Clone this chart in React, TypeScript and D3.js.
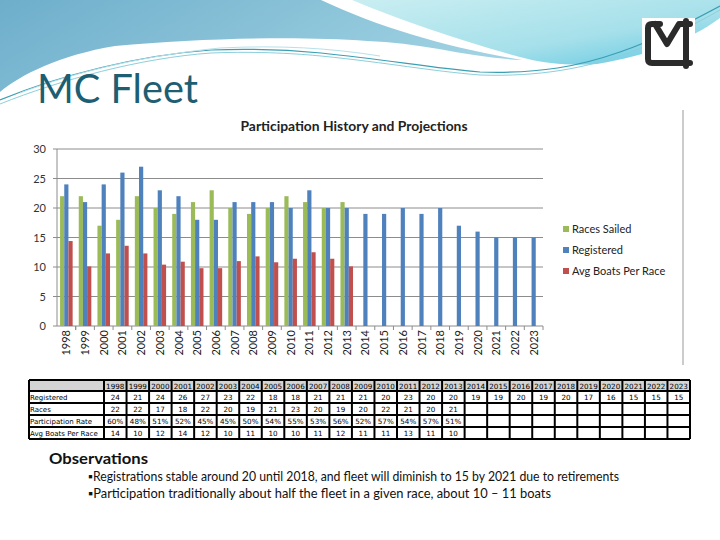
import React from "react";
import * as d3 from "d3";

const years = ["1998", "1999", "2000", "2001", "2002", "2003", "2004", "2005", "2006", "2007", "2008", "2009", "2010",
	"2011", "2012", "2013", "2014", "2015", "2016", "2017", "2018", "2019", "2020", "2021", "2022", "2023"];
const registered = [24, 21, 24, 26, 27, 23, 22, 18, 18, 21, 21, 21, 20, 23, 20, 20, 19, 19, 20, 19, 20, 17, 16, 15, 15, 15];
const racesSailed = [22, 22, 17, 18, 22, 20, 19, 21, 23, 20, 19, 20, 22, 21, 20, 21];
const avgBoats = [14.4, 10.1, 12.3, 13.6, 12.3, 10.4, 10.9, 9.8, 9.8, 11.0, 11.8, 10.8, 11.4, 12.5, 11.4, 10.1];
const partRate = ["60%", "48%", "51%", "52%", "45%", "45%", "50%", "54%", "55%", "53%", "56%", "52%", "57%", "54%", "57%", "51%"];
const yTicks = [0, 5, 10, 15, 20, 25, 30];

const seriesNames = ["Races Sailed", "Registered", "Avg Boats Per Race"];
const seriesColors = ["#9bbb59", "#4f81bd", "#c0504d"];
const seriesValues = [racesSailed, registered, avgBoats];

const rowLabels = ["Registered", "Races", "Participation Rate", "Avg Boats Per Race"];

const chartFont = "Lato, 'Liberation Sans', sans-serif";
const tableFont = "'DejaVu Sans', sans-serif";

export default function App() {
	const x = d3.scaleBand().domain(years).range([57, 543]);
	const y = d3.scaleLinear().domain([0, 30]).range([326, 149]);
	const sub = d3.scaleBand().domain(seriesNames).range([0, x.bandwidth()]).paddingOuter(0.73);

	// table columns
	const tblLeft = 29, labelW = 75, tblRight = 690;
	const col = d3.scaleBand().domain(years).range([tblLeft + labelW, tblRight]);
	const rowTops = [380, 391, 403, 415, 427, 439];
	const tableRows = [
		registered.map(String),
		racesSailed.map(String),
		partRate,
		avgBoats.map(v => String(Math.round(v))),
	];

	return (
		<svg width={720} height={540} style={{ position: "absolute", left: 0, top: 0, background: "#fff" }}>
			<defs>
				<linearGradient id="blueG" x1="0" y1="0" x2="1" y2="0.3">
					<stop offset="0" stopColor="#6eaecb" />
					<stop offset="1" stopColor="#9fd2e2" />
				</linearGradient>
				<linearGradient id="cyanG" x1="0" y1="0" x2="1" y2="1">
					<stop offset="0" stopColor="#c9eef2" />
					<stop offset="0.6" stopColor="#a6e0ea" />
					<stop offset="1" stopColor="#5ec6e2" />
				</linearGradient>
			</defs>

			{/* header swoosh */}
			<path d="M0,0 H321 C 380,28 450,48 522,60 C 470,58 420,42 367,41 C 300,36 200,38 115,46 C 60,55 20,75 0,92 Z" fill="url(#blueG)" />
			<path d="M352,0 H720 V18 C 690,40 650,55 597,64 C 570,66 545,63 528,59 C 470,44 405,22 352,0 Z" fill="url(#cyanG)" />
			<path d="M0,100 C 60,75 140,55 211,50 C 260,48 300,51 321,53 C 390,60 430,68 480,72 C 540,74 580,66 620,52 C 660,38 690,22 720,6" fill="none" stroke="#3a9fb2" strokeWidth={1.2} />
			<path d="M0,104 C 60,80 140,58 211,53 C 260,51 300,54 321,56 C 390,63 430,71 480,75 C 540,77 585,68 625,54 C 665,40 695,24 720,10" fill="none" stroke="#8ccfdc" strokeWidth={1} />
			<path d="M20,93 C 80,70 150,55 220,48 C 280,45 330,48 380,56" fill="none" stroke="#b8e0ea" strokeWidth={1} />

			{/* logo */}
			<rect x={642} y={18} width={53} height={50} fill="#fff" />
			<g fill="none" stroke="#2b2b2b" strokeWidth={6} strokeLinejoin="round" strokeLinecap="round">
				<path d="M660,24 H652 Q648,24 648,28 V59 Q648,63 652,63 H690" />
				<path d="M655,24 L667,44 L679,24 H690" />
				<path d="M686,21 V66" />
			</g>

			{/* slide title */}
			<text x={37} y={103} fontFamily="Lato, 'Open Sans', sans-serif" fontSize={41} fill="#1d5e72" textLength={161} lengthAdjust="spacingAndGlyphs">MC Fleet</text>

			{/* chart box */}
			<rect x={27} y={108} width={656} height={258} fill="#fff" />
			<line x1={683} x2={683} y1={110} y2={365} stroke="#999" />
			<text x={354} y={131} textAnchor="middle" fontFamily={chartFont} fontWeight="bold" fontSize={12.5} fill="#222" textLength={227} lengthAdjust="spacingAndGlyphs">Participation History and Projections</text>

			{/* grid */}
			{yTicks.map(t => (
				<g key={t}>
					{t > 0 && <line x1={57} x2={543} y1={y(t)} y2={y(t)} stroke="#8c8c8c" strokeWidth={1} />}
					<line x1={53} x2={57} y1={y(t)} y2={y(t)} stroke="#8c8c8c" />
					<text x={46} y={y(t) + 4} textAnchor="end" fontFamily={chartFont} fontSize={11} fill="#333">{t}</text>
				</g>
			))}
			<line x1={57} x2={57} y1={y(30)} y2={y(0)} stroke="#8c8c8c" />
			<line x1={57} x2={543} y1={y(0)} y2={y(0)} stroke="#8c8c8c" />
			{years.map((yr, i) => (
				<line key={"t" + yr} x1={x(yr)! + (i === 0 ? x.bandwidth() : 0)} x2={x(yr)! + (i === 0 ? x.bandwidth() : 0)} y1={y(0)} y2={y(0) + 4} stroke="#8c8c8c" />
			))}
			<line x1={543} x2={543} y1={y(0)} y2={y(0) + 4} stroke="#8c8c8c" />

			{/* bars */}
			{seriesNames.map((name, si) => (
				<g key={name} fill={seriesColors[si]}>
					{seriesValues[si].map((v, i) => (
						<rect key={i} x={x(years[i])! + sub(name)!} y={y(v)} width={sub.bandwidth()} height={y(0) - y(v)} />
					))}
				</g>
			))}

			{/* x labels */}
			{years.map(yr => {
				const cx = x(yr)! + x.bandwidth() / 2 + 4;
				return (
					<text key={yr} transform={`translate(${cx},330) rotate(-90)`} textAnchor="end" fontFamily={chartFont} fontSize={11} fill="#222">{yr}</text>
				);
			})}

			{/* legend */}
			{seriesNames.map((name, i) => (
				<g key={name} transform={`translate(563,${229 + i * 21})`}>
					<rect x={0} y={-3} width={6} height={6} fill={seriesColors[i]} />
					<text x={9} y={4} fontFamily={chartFont} fontSize={11} fill="#222">{name}</text>
				</g>
			))}

			{/* table */}
			<rect x={tblLeft} y={rowTops[0]} width={tblRight - tblLeft} height={rowTops[1] - rowTops[0]} fill="#d4d4d4" />
			{years.map(yr => (
				<text key={"h" + yr} x={col(yr)! + col.bandwidth() / 2} y={rowTops[0] + 8.5} textAnchor="middle" fontFamily={tableFont} fontSize={7.2} fill="#000">{yr}</text>
			))}
			{rowLabels.map((lab, r) => (
				<g key={lab}>
					<text x={tblLeft + 1} y={rowTops[r + 1] + 9} fontFamily={tableFont} fontSize={7} fill="#000">{lab}</text>
					{tableRows[r].map((v, i) => (
						<text key={i} x={col(years[i])! + col.bandwidth() / 2} y={rowTops[r + 1] + 9} textAnchor="middle" fontFamily={tableFont} fontSize={7.2} fill="#000">{v}</text>
					))}
				</g>
			))}
			<g stroke="#000" strokeWidth={2}>
				{rowTops.map(t => <line key={"r" + t} x1={tblLeft} x2={tblRight} y1={t} y2={t} />)}
				<line x1={tblLeft} x2={tblLeft} y1={rowTops[0]} y2={rowTops[5]} />
				{years.map(yr => <line key={"c" + yr} x1={col(yr)!} x2={col(yr)!} y1={rowTops[0]} y2={rowTops[5]} />)}
				<line x1={tblRight} x2={tblRight} y1={rowTops[0]} y2={rowTops[5]} />
			</g>

			{/* observations */}
			<text x={49} y={464} fontFamily="Lato, 'Open Sans', sans-serif" fontWeight="bold" fontSize={15} fill="#111" textLength={99} lengthAdjust="spacingAndGlyphs">Observations</text>
			<text x={88} y={481} fontFamily="Lato, 'Open Sans', sans-serif" fontSize={12.5} fill="#111" textLength={531} lengthAdjust="spacingAndGlyphs">▪Registrations stable around 20 until 2018, and fleet will diminish to 15 by 2021 due to retirements</text>
			<text x={88} y={498} fontFamily="Lato, 'Open Sans', sans-serif" fontSize={12.5} fill="#111" textLength={463} lengthAdjust="spacingAndGlyphs">▪Participation traditionally about half the fleet in a given race, about 10 – 11 boats</text>
		</svg>
	);
}
